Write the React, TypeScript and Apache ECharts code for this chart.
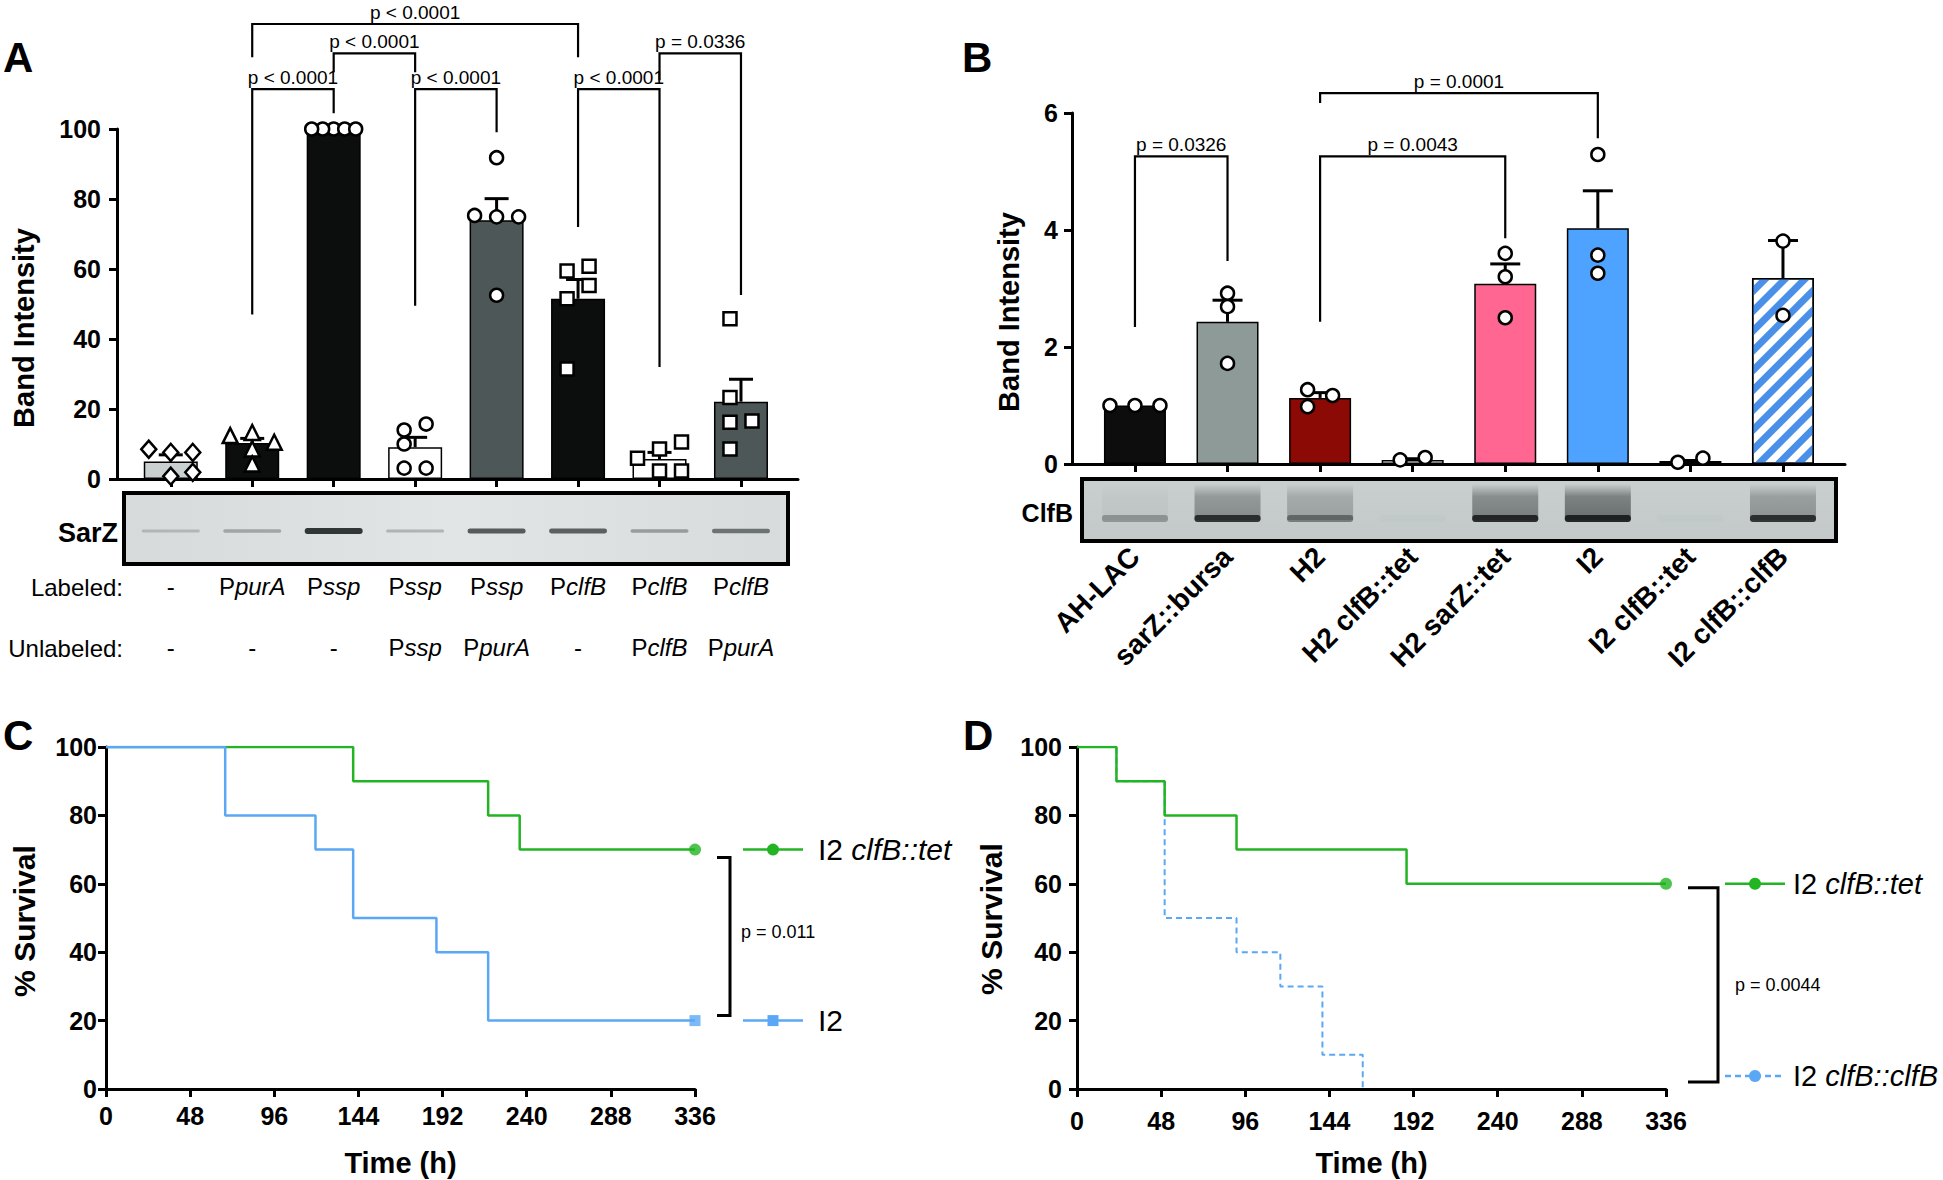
import React, { useEffect, useRef } from 'react';
import * as echarts from 'echarts';

const FONT = '"Liberation Sans", Arial, Helvetica, sans-serif';

// ---------------- Panel A data ----------------
const aLabeled = ['-', 'PpurA', 'Pssp', 'Pssp', 'Pssp', 'PclfB', 'PclfB', 'PclfB'];
const aUnlabeled = ['-', '-', '-', 'Pssp', 'PpurA', '-', 'PclfB', 'PpurA'];
const aMeans = [5.0, 10.3, 100, 9.1, 73.9, 51.5, 5.7, 22.1];
const aSem = [1.9, 1.3, 0, 2.8, 6.2, 5.5, 1.9, 6.4];
const aPts1 = [7.6, 8.5, 7.6, 0.8, 1.9];
const aPts2 = [12.4, 13.3, 10.5, 8.6, 4.3];
const aPts3 = [100, 100, 100, 100, 100];
const aPts4 = [15.7, 14.0, 10.0, 3.1, 3.1];
const aPts5 = [91.8, 75.3, 74.9, 74.9, 52.5];
const aPts6 = [60.8, 59.4, 55.3, 51.5, 31.4];
const aPts7 = [10.6, 8.6, 5.9, 2.3, 2.3];
const aPts8 = [45.8, 23.3, 16.6, 16.2, 8.6];
const aPoints = [aPts1, aPts2, aPts3, aPts4, aPts5, aPts6, aPts7, aPts8];
const aGel = [0.1, 0.22, 0.95, 0.15, 0.72, 0.68, 0.28, 0.55];
// [from, to, bar height, left leg end, right leg end]
const aBrackets = [
  [1, 2, 111.4, 47, 104.5],
  [2, 3, 121.6, 116.2, 116.2],
  [3, 4, 111.4, 49.5, 99.1],
  [1, 5, 130.0, 120.5, 120.5],
  [5, 6, 111.4, 72, 32],
  [6, 7, 121.6, 113.9, 52.6],
];
const aBracketText = ['p < 0.0001', 'p < 0.0001', 'p < 0.0001', 'p < 0.0001', 'p < 0.0001', 'p = 0.0336'];

// ---------------- Panel B data ----------------
const bStrains = ['AH-LAC', 'sarZ::bursa', 'H2', 'H2 clfB::tet', 'H2 sarZ::tet', 'I2', 'I2 clfB::tet', 'I2 clfB::clfB'];
const bMeans = [1.0, 2.43, 1.13, 0.07, 3.08, 4.03, 0.05, 3.18];
const bSem = [0, 0.37, 0.09, 0.02, 0.34, 0.64, 0.01, 0.64];
const bPts1 = [1.0, 1.0, 1.0];
const bPts2 = [2.92, 2.69, 1.72];
const bPts3 = [1.27, 1.17, 0.98];
const bPts4 = [0.07, 0.11];
const bPts5 = [3.6, 3.2, 2.5];
const bPts6 = [5.29, 3.57, 3.26];
const bPts7 = [0.03, 0.1];
const bPts8 = [3.81, 2.54];
const bPoints = [bPts1, bPts2, bPts3, bPts4, bPts5, bPts6, bPts7, bPts8];
const bGelBand = [0.3, 0.85, 0.45, 0.02, 0.9, 0.95, 0.02, 0.85];
const bGelSmear = [0.05, 0.45, 0.3, 0, 0.55, 0.65, 0, 0.4];
const bBrackets = [
  [0, 1, 5.26, 2.34, 3.47],
  [2, 4, 5.26, 2.43, 3.86],
  [2, 5, 6.34, 6.17, 5.57],
];
const bBracketText = ['p = 0.0326', 'p = 0.0043', 'p = 0.0001'];

// ---------------- Panel C / D data ----------------
const cTetTime = [0, 141, 218, 236, 336];
const cTetSurv = [100, 90, 80, 70, 70];
const cI2Time = [0, 68, 119.5, 141, 188.5, 218, 336];
const cI2Surv = [100, 80, 70, 50, 40, 20, 20];
const dTetTime = [0, 22.5, 50, 91, 188, 336];
const dTetSurv = [100, 90, 80, 70, 60, 60];
const dClfTime = [0, 22.5, 50, 91, 116, 140, 163];
const dClfSurv = [100, 90, 50, 40, 30, 10, 0];

// ---------------- styles / layout ----------------
const GA = { left: 117, top: 129, width: 681, height: 350 };
const GB = { left: 1072, top: 113, width: 773, height: 351 };
const GC = { left: 106, top: 747, width: 589, height: 342 };
const GD = { left: 1077, top: 747, width: 589, height: 342 };
const A_XMIN = -0.66, A_XMAX = 7.7;
const B_XMIN = -0.68, B_XMAX = 7.67;
const aBand = GA.width / (A_XMAX - A_XMIN);
const bBand = GB.width / (B_XMAX - B_XMIN);
const aBarColors = ['#c9d0cf', '#0c0e0d', '#0c0e0d', '#ffffff', '#4e5757', '#0c0e0d', '#ffffff', '#4e5757'];
const aSymbols = ['diamond', 'triangle', 'circle', 'circle', 'circle', 'rect', 'rect', 'rect'];
const aSymSizes: any[] = [[15, 17], 15, 13, 13, 13, 13, 13, 13];
const bBarColors = ['#0d0d0d', '#8e9a98', '#8b0a05', '#ffffff', '#ff6691', '#4da3ff', '#2e9e38', '#ffffff'];
const GREEN = '#22b422';
const BLUE = '#5aa8f5';
const idx8 = [0, 1, 2, 3, 4, 5, 6, 7];

function swarm(vals: number[], pxPerUnit: number, step: number, dist: number, maxHalf: number): number[] {
  const place = (s: number, d: number) => {
    const order = vals.map((_, i) => i).sort((a, b) => vals[a] - vals[b] || a - b);
    const placed: number[][] = [];
    const off: number[] = vals.map(() => 0);
    for (const i of order) {
      const y = vals[i] * pxPerUnit;
      for (let k = 0; k < 40; k++) {
        const x = k === 0 ? 0 : (k % 2 === 1 ? 1 : -1) * Math.ceil(k / 2) * s;
        if (placed.every((p) => Math.hypot(p[0] - x, p[1] - y) >= d - 1e-6)) {
          off[i] = x;
          placed.push([x, y]);
          break;
        }
      }
    }
    const lo = Math.min(...off), hi = Math.max(...off);
    return off.map((o) => o - (lo + hi) / 2);
  };
  let off = place(step, dist);
  const half = Math.max(...off.map(Math.abs));
  if (half > maxHalf) {
    const f = maxHalf / half;
    off = place(step * f, dist * f);
  }
  return off;
}

const axisLineStyle = { color: '#000', width: 3 };
const tickLabel = { color: '#000', fontSize: 25, fontWeight: 'bold', fontFamily: FONT };

function richLabel(s: string) {
  return s === '-' ? '{n|-}' : `{n|P}{i|${s.slice(1)}}`;
}

function errorBarSeries(xi: number, yi: number, means: number[], sems: number[], cap: number) {
  return {
    type: 'custom', xAxisIndex: xi, yAxisIndex: yi, z: 3,
    data: means.map((m, i) => [i, m, sems[i]]),
    renderItem: (params: any, api: any) => {
      const i = api.value(0), m = api.value(1), s = api.value(2);
      if (!s) return { type: 'group', children: [] };
      const p0 = api.coord([i, m]);
      const p1 = api.coord([i, m + s]);
      return {
        type: 'group',
        children: [
          { type: 'line', shape: { x1: p0[0], y1: p0[1], x2: p1[0], y2: p1[1] }, style: { stroke: '#000', lineWidth: 3 } },
          { type: 'line', shape: { x1: p1[0] - cap / 2, y1: p1[1], x2: p1[0] + cap / 2, y2: p1[1] }, style: { stroke: '#000', lineWidth: 3 } },
        ],
      };
    },
  };
}

function bracketSeries(xi: number, yi: number, brackets: number[][], texts: string[]) {
  return {
    type: 'custom', xAxisIndex: xi, yAxisIndex: yi, z: 3,
    data: brackets,
    renderItem: (params: any, api: any) => {
      const a = api.value(0), b = api.value(1), top = api.value(2), le = api.value(3), re = api.value(4);
      const pl = api.coord([a, top]);
      const pr = api.coord([b, top]);
      const ple = api.coord([a, le]);
      const pre = api.coord([b, re]);
      return {
        type: 'group',
        children: [
          { type: 'polyline', shape: { points: [ple, pl, pr, pre] }, style: { stroke: '#000', lineWidth: 2.2, fill: null } },
          {
            type: 'text', x: (pl[0] + pr[0]) / 2, y: pl[1] - 12,
            style: { text: texts[params.dataIndex], fontSize: 19, fontFamily: FONT, fill: '#000', align: 'center', verticalAlign: 'middle', textAlign: 'center', textVerticalAlign: 'middle' },
          },
        ],
      };
    },
  };
}

function txt(x: number, y: number, text: string, size: number, opts: any = {}) {
  const align = opts.align || 'left';
  return {
    type: 'text', x, y, rotation: opts.rotation || 0, z: 50,
    style: {
      text, fontSize: size, fontFamily: FONT, fontWeight: opts.bold ? 'bold' : 'normal', fill: '#000',
      align, verticalAlign: 'middle', textAlign: align, textVerticalAlign: 'middle',
      rich: opts.rich,
    },
  };
}

const legendRich = (size: number) => ({
  n: { fontSize: size, fontFamily: FONT, fill: '#000', color: '#000' },
  i: { fontSize: size, fontFamily: FONT, fontStyle: 'italic', fill: '#000', color: '#000' },
});

function legendEntry(x1: number, x2: number, xm: number, xt: number, y: number, color: string, symbol: string, dashed: boolean, text: string, size: number) {
  const els: any[] = [
    { type: 'line', z: 50, shape: { x1, y1: y, x2, y2: y }, style: { stroke: color, lineWidth: 2.5, lineDash: dashed ? [6, 4] : null } },
  ];
  if (symbol === 'circle') els.push({ type: 'circle', z: 51, shape: { cx: xm, cy: y, r: 6 }, style: { fill: color } });
  else els.push({ type: 'rect', z: 51, shape: { x: xm - 5.5, y: y - 5.5, width: 11, height: 11 }, style: { fill: color } });
  els.push(txt(xt, y, text, size, { rich: legendRich(size) }));
  return els;
}

function bracketV(xc: number, xv: number, yt: number, yb: number) {
  return {
    type: 'polyline', z: 50,
    shape: { points: [[xc, yt], [xv, yt], [xv, yb], [xc, yb]] },
    style: { stroke: '#000', lineWidth: 3, fill: null },
  };
}

const sy = (g: any, v: number) => g.top + (1 - v / 100) * g.height;
const last = (arr: number[]) => arr[arr.length - 1];

function buildOption() {
  const aScatter = aPoints.flatMap((pts, i) => {
    const off = swarm(pts, GA.height / 100, 22, 14, 22);
    return pts.map((v, k) => ({ value: [i + off[k] / aBand, v], symbol: aSymbols[i], symbolSize: aSymSizes[i] }));
  });
  const bScatter = bPoints.flatMap((pts, i) => {
    const off = swarm(pts, GB.height / 6, 25, 13, 26);
    return pts.map((v, k) => ({ value: [i + off[k] / bBand, v] }));
  });

  const survX = (g: number) => ({
    gridIndex: g, type: 'value', min: 0, max: 336, interval: 48,
    axisLine: { show: true, onZero: false, lineStyle: axisLineStyle },
    axisTick: { show: true, length: 8, lineStyle: axisLineStyle },
    axisLabel: { ...tickLabel, margin: g === 2 ? 14 : 19 },
    splitLine: { show: false },
  });
  const survY = (g: number) => ({
    gridIndex: g, type: 'value', min: 0, max: 100, interval: 20,
    axisLine: { show: true, onZero: false, lineStyle: axisLineStyle },
    axisTick: { show: true, length: 8, lineStyle: axisLineStyle },
    axisLabel: { ...tickLabel, margin: g === 2 ? 9 : 15 },
    splitLine: { show: false },
  });

  const gelFillA = new echarts.graphic.LinearGradient(0, 0, 1, 0, [
    { offset: 0, color: '#d6dada' }, { offset: 0.5, color: '#e2e5e5' }, { offset: 1, color: '#d7dbdb' },
  ]);
  const gelFillB = new echarts.graphic.LinearGradient(0, 0, 0, 1, [
    { offset: 0, color: '#c9cfcf' }, { offset: 1, color: '#c3c9c9' },
  ]);

  const graphic: any[] = [
    txt(3, 57, 'A', 42, { bold: true }),
    txt(962, 57, 'B', 42, { bold: true }),
    txt(3, 735, 'C', 42, { bold: true }),
    txt(963, 735, 'D', 42, { bold: true }),
    txt(24, 328, 'Band Intensity', 29, { bold: true, align: 'center', rotation: Math.PI / 2 }),
    txt(1009, 312, 'Band Intensity', 29, { bold: true, align: 'center', rotation: Math.PI / 2 }),
    txt(24, 921, '% Survival', 30, { bold: true, align: 'center', rotation: Math.PI / 2 }),
    txt(991, 919, '% Survival', 30, { bold: true, align: 'center', rotation: Math.PI / 2 }),
    txt(GC.left + GC.width / 2, 1163, 'Time (h)', 29, { bold: true, align: 'center' }),
    txt(GD.left + GD.width / 2, 1163, 'Time (h)', 29, { bold: true, align: 'center' }),
    // gel A
    { type: 'rect', z: 0, shape: { x: 124, y: 493, width: 664, height: 71 }, style: { fill: gelFillA } },
    { type: 'rect', z: 60, shape: { x: 124, y: 493, width: 664, height: 71 }, style: { fill: null, stroke: '#000', lineWidth: 4 } },
    txt(118, 533, 'SarZ', 27, { bold: true, align: 'right' }),
    txt(123, 587, 'Labeled:', 24, { align: 'right' }),
    txt(123, 648, 'Unlabeled:', 24, { align: 'right' }),
    // gel B
    { type: 'rect', z: 0, shape: { x: 1082, y: 479, width: 754, height: 62 }, style: { fill: gelFillB } },
    { type: 'rect', z: 60, shape: { x: 1082, y: 479, width: 754, height: 62 }, style: { fill: null, stroke: '#000', lineWidth: 4 } },
    txt(1073, 513, 'ClfB', 25, { bold: true, align: 'right' }),
  ];

  // legends C
  const cR = GC.left + GC.width;
  const cyT = sy(GC, last(cTetSurv));
  const cyI = sy(GC, last(cI2Surv));
  graphic.push(...legendEntry(cR + 48, cR + 108, cR + 78, cR + 123, cyT, GREEN, 'circle', false, '{n|I2 }{i|clfB::tet}', 30));
  graphic.push(...legendEntry(cR + 48, cR + 108, cR + 78, cR + 123, cyI, BLUE, 'rect', false, '{n|I2}', 30));
  graphic.push(bracketV(cR + 22, cR + 35, cyT + 8, cyI - 5));
  graphic.push(txt(cR + 46, (cyT + cyI) / 2 - 3, 'p = 0.011', 18));

  // legends D
  const dR = GD.left + GD.width;
  const dyT = sy(GD, last(dTetSurv));
  const dyC = sy(GD, last(dClfSurv)) - 13;
  graphic.push(...legendEntry(dR + 59, dR + 119, dR + 89, dR + 127, dyT, GREEN, 'circle', false, '{n|I2 }{i|clfB::tet}', 29));
  graphic.push(...legendEntry(dR + 59, dR + 119, dR + 89, dR + 127, dyC, BLUE, 'circle', true, '{n|I2 }{i|clfB::clfB}', 29));
  graphic.push(bracketV(dR + 22, dR + 52, dyT + 4, dyC + 6));
  graphic.push(txt(dR + 69, (dyT + dyC) / 2 + 5, 'p = 0.0044', 18));

  const series: any[] = [
    // ---- A ----
    {
      type: 'bar', xAxisIndex: 0, yAxisIndex: 0, barWidth: 54, z: 2,
      data: aMeans.map((m, i) => ({ value: [i, m], itemStyle: { color: aBarColors[i], borderColor: '#000', borderWidth: 1.5 } })),
    },
    errorBarSeries(0, 0, aMeans, aSem, 24),
    {
      type: 'scatter', xAxisIndex: 0, yAxisIndex: 0, z: 4, data: aScatter,
      itemStyle: { color: '#fff', borderColor: '#000', borderWidth: 2.5, opacity: 1 },
    },
    bracketSeries(0, 0, aBrackets, aBracketText),
    {
      type: 'custom', xAxisIndex: 0, yAxisIndex: 0, z: 5,
      data: aGel.map((v, i) => [i, v]),
      renderItem: (params: any, api: any) => {
        const I = api.value(1);
        const c = api.coord([api.value(0), 0]);
        const w = 58, h = 2.5 + 3.5 * I;
        return {
          type: 'rect',
          shape: { x: c[0] - w / 2, y: c[1] + 52 - h / 2, width: w, height: h, r: h / 2 },
          style: { fill: `rgba(25,30,30,${0.12 + 0.8 * I})` },
        };
      },
    },
    // ---- B ----
    {
      type: 'bar', xAxisIndex: 1, yAxisIndex: 1, barWidth: 62, z: 2,
      data: bMeans.map((m, i) => ({
        value: [i, m],
        itemStyle: i === 7
          ? { color: '#ffffff', borderColor: '#000', borderWidth: 1.5, decal: { symbol: 'rect', symbolSize: 1, dashArrayX: [1, 0], dashArrayY: [7, 7], rotation: -Math.PI / 4, color: '#4a8fe8' } }
          : { color: bBarColors[i], borderColor: '#000', borderWidth: 1.5 },
      })),
    },
    errorBarSeries(1, 1, bMeans, bSem, 30),
    {
      type: 'scatter', xAxisIndex: 1, yAxisIndex: 1, z: 4, data: bScatter, symbol: 'circle', symbolSize: 13,
      itemStyle: { color: '#fff', borderColor: '#000', borderWidth: 2.5, opacity: 1 },
    },
    bracketSeries(1, 1, bBrackets, bBracketText),
    {
      type: 'custom', xAxisIndex: 1, yAxisIndex: 1, z: 5,
      data: bGelBand.map((v, i) => [i, v, bGelSmear[i]]),
      renderItem: (params: any, api: any) => {
        const B = api.value(1), S = api.value(2);
        const c = api.coord([api.value(0), 0]);
        const w = 66;
        return {
          type: 'group',
          children: [
            {
              type: 'rect', shape: { x: c[0] - w / 2, y: c[1] + 20, width: w, height: 36 },
              style: {
                fill: new echarts.graphic.LinearGradient(0, 0, 0, 1, [
                  { offset: 0, color: 'rgba(55,60,60,0)' },
                  { offset: 0.35, color: `rgba(55,60,60,${S * 0.8})` },
                  { offset: 1, color: `rgba(55,60,60,${S})` },
                ]),
              },
            },
            { type: 'rect', shape: { x: c[0] - w / 2, y: c[1] + 51, width: w, height: 7, r: 3 }, style: { fill: `rgba(25,28,28,${B})` } },
          ],
        };
      },
    },
    // ---- C ----
    {
      type: 'line', xAxisIndex: 2, yAxisIndex: 2, step: 'end', symbol: 'none', z: 3,
      data: cTetTime.map((t, i) => [t, cTetSurv[i]]), lineStyle: { color: GREEN, width: 2.5 },
    },
    {
      type: 'line', xAxisIndex: 2, yAxisIndex: 2, step: 'end', symbol: 'none', z: 3,
      data: cI2Time.map((t, i) => [t, cI2Surv[i]]), lineStyle: { color: BLUE, width: 2.5 },
    },
    {
      type: 'scatter', xAxisIndex: 2, yAxisIndex: 2, z: 4, symbol: 'circle', symbolSize: 12,
      data: [[last(cTetTime), last(cTetSurv)]], itemStyle: { color: GREEN },
    },
    {
      type: 'scatter', xAxisIndex: 2, yAxisIndex: 2, z: 4, symbol: 'rect', symbolSize: 11,
      data: [[last(cI2Time), last(cI2Surv)]], itemStyle: { color: BLUE },
    },
    // ---- D ----
    {
      type: 'line', xAxisIndex: 3, yAxisIndex: 3, step: 'end', symbol: 'none', z: 3,
      data: dClfTime.map((t, i) => [t, dClfSurv[i]]), lineStyle: { color: BLUE, width: 2, type: [6, 4] },
    },
    {
      type: 'line', xAxisIndex: 3, yAxisIndex: 3, step: 'end', symbol: 'none', z: 3,
      data: dTetTime.map((t, i) => [t, dTetSurv[i]]), lineStyle: { color: GREEN, width: 2.5 },
    },
    {
      type: 'scatter', xAxisIndex: 3, yAxisIndex: 3, z: 4, symbol: 'circle', symbolSize: 12,
      data: [[last(dTetTime), last(dTetSurv)]], itemStyle: { color: GREEN },
    },
  ];

  return {
    animation: false,
    backgroundColor: '#ffffff',
    textStyle: { fontFamily: FONT },
    grid: [GA, GB, GC, GD].map((g) => ({ ...g, containLabel: false })),
    xAxis: [
      {
        gridIndex: 0, type: 'value', min: A_XMIN, max: A_XMAX,
        axisLine: { show: true, onZero: false, lineStyle: axisLineStyle },
        axisTick: { show: true, customValues: idx8, length: 8, lineStyle: axisLineStyle },
        axisLabel: {
          show: true, customValues: idx8, margin: 77, color: '#000', fontSize: 24, lineHeight: 61, fontFamily: FONT,
          formatter: (v: number) => {
            const i = Math.round(v);
            return richLabel(aLabeled[i]) + '\n' + richLabel(aUnlabeled[i]);
          },
          rich: {
            n: { fontSize: 24, fontFamily: FONT, color: '#000', lineHeight: 61 },
            i: { fontSize: 24, fontFamily: FONT, fontStyle: 'italic', color: '#000', lineHeight: 61 },
          },
        },
        splitLine: { show: false },
      },
      {
        gridIndex: 1, type: 'value', min: B_XMIN, max: B_XMAX,
        axisLine: { show: true, onZero: false, lineStyle: axisLineStyle },
        axisTick: { show: true, customValues: idx8, length: 8, lineStyle: axisLineStyle },
        axisLabel: {
          show: true, customValues: idx8, margin: 88, rotate: 45, color: '#000', fontSize: 28, fontWeight: 'bold', fontFamily: FONT,
          formatter: (v: number) => bStrains[Math.round(v)],
        },
        splitLine: { show: false },
      },
      survX(2),
      survX(3),
    ],
    yAxis: [
      {
        gridIndex: 0, type: 'value', min: 0, max: 100, interval: 20,
        axisLine: { show: true, onZero: false, lineStyle: axisLineStyle },
        axisTick: { show: true, length: 8, lineStyle: axisLineStyle },
        axisLabel: { ...tickLabel, margin: 16 },
        splitLine: { show: false },
      },
      {
        gridIndex: 1, type: 'value', min: 0, max: 6, interval: 2,
        axisLine: { show: true, onZero: false, lineStyle: axisLineStyle },
        axisTick: { show: true, length: 8, lineStyle: axisLineStyle },
        axisLabel: { ...tickLabel, margin: 14 },
        splitLine: { show: false },
      },
      survY(2),
      survY(3),
    ],
    series,
    graphic,
  };
}

export default function App() {
  const ref = useRef<HTMLDivElement>(null);
  useEffect(() => {
    const chart = echarts.init(ref.current as HTMLDivElement, null, { renderer: 'svg' });
    chart.setOption(buildOption() as any);
    return () => chart.dispose();
  }, []);
  return (
    <div
      ref={ref}
      style={{ position: 'absolute', left: 0, top: 0, width: 1943, height: 1180, background: '#ffffff' }}
    />
  );
}
